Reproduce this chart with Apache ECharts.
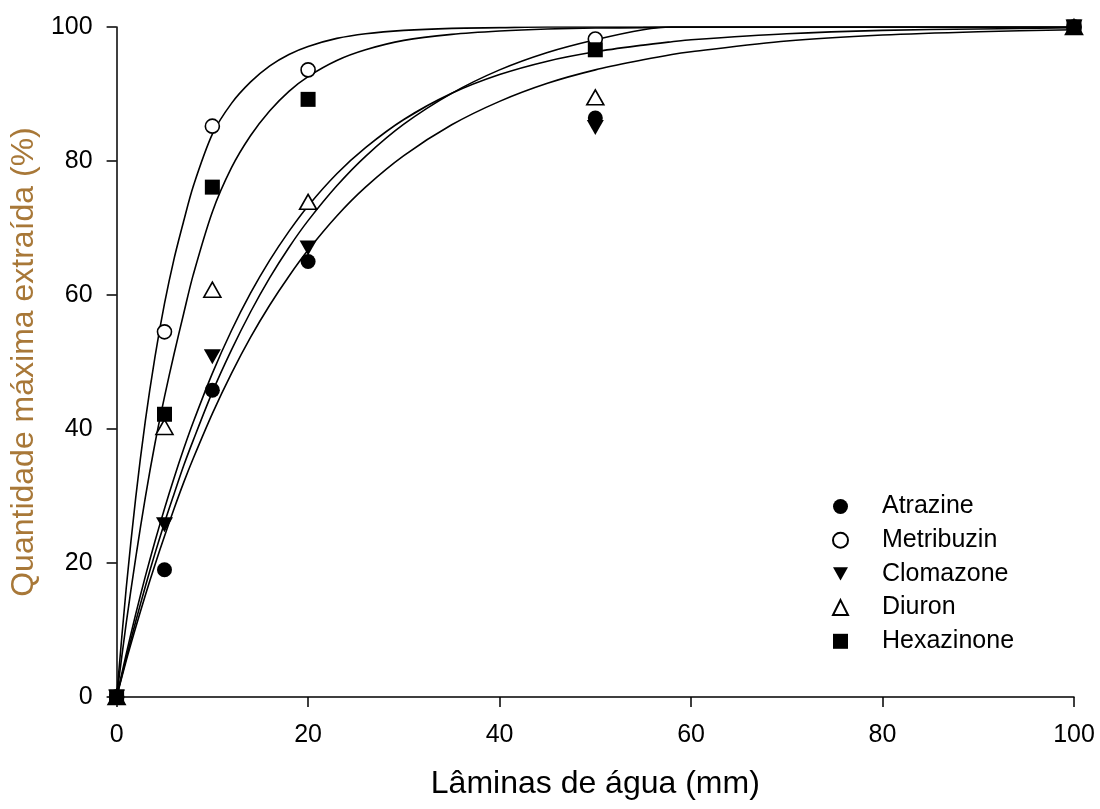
<!DOCTYPE html>
<html>
<head>
<meta charset="utf-8">
<script src="https://cdn.jsdelivr.net/npm/echarts@6/dist/echarts.min.js"></script>
<style>
html, body { margin: 0; padding: 0; background: #fff; }
#chart { width: 1100px; height: 809px; }
</style>
</head>
<body>
<div id="chart"></div>
<script>
// pontos observados
var laminas = [0, 5, 10, 20, 50, 100];
var atrazine = [0, 19.0, 45.8, 65.0, 86.4, 100];
var metribuzin = [0, 54.5, 85.2, 93.6, 98.2, 100];
var clomazone = [0, 25.7, 50.8, 67.0, 85.0, 100];
var diuron = [0, 40.3, 60.8, 73.9, 89.5, 100];
var hexazinone = [0, 42.2, 76.1, 89.2, 96.6, 100];

// curvas ajustadas
var curveX = [0, 1, 2, 3, 4, 5, 6, 7, 8, 10, 12, 14, 16, 18, 20, 23, 26, 30, 35, 40, 45, 50, 55, 58, 60, 70, 80, 90, 100];
var fitAtrazine = [0, 5.4, 10.4, 15.2, 19.7, 24.0, 28.1, 32.0, 35.6, 42.3, 48.3, 53.7, 58.5, 62.8, 66.7, 71.8, 76.1, 80.8, 85.4, 88.9, 91.6, 93.6, 95.1, 95.9, 96.3, 97.9, 98.8, 99.3, 99.6];
var fitMetribuzin = [0, 16.2, 29.8, 41.2, 50.7, 58.7, 65.4, 71.0, 76.2, 84.0, 88.6, 91.8, 94.2, 95.9, 97.1, 98.3, 99.0, 99.5, 99.8, 99.9, 100, 100, 100, 100, 100, 100, 100, 100, 100];
var fitClomazone = [0, 5.8, 11.3, 16.5, 21.4, 26.0, 30.3, 34.5, 38.3, 45.5, 51.8, 57.5, 62.6, 67.1, 71.1, 76.3, 80.7, 85.5, 90.1, 93.6, 96.2, 98.1, 99.6, 100, 100, 100, 100, 100, 100];
var fitDiuron = [0, 6.4, 12.4, 18.0, 23.2, 28.1, 32.7, 37.0, 41.0, 48.3, 54.7, 60.3, 65.2, 69.5, 73.3, 78.1, 82.0, 86.2, 90.1, 92.9, 94.9, 96.3, 97.3, 97.8, 98.1, 99.0, 99.5, 99.7, 99.9];
var fitHexazinone = [0, 11.0, 20.8, 29.8, 37.8, 44.8, 51.2, 57.2, 63.0, 72.4, 79.0, 83.8, 87.5, 90.4, 92.6, 95.0, 96.6, 98.0, 98.9, 99.4, 99.7, 99.85, 99.9, 100, 100, 100, 100, 100, 100];

var xTicks = [0, 20, 40, 60, 80, 100];
var yTicks = [0, 20, 40, 60, 80, 100];

var FONT = "'Liberation Sans', Arial, sans-serif";

function pairs(xs, ys){
	var out = [];
	for(var i = 0; i < xs.length; i++){
		out.push([xs[i], ys[i]]);
	}
	return out;
}

function fitLine(name, ys){
	return {
		name: name,
		type: 'line',
		data: pairs(curveX, ys),
		showSymbol: false,
		smooth: 0.3,
		silent: true,
		lineStyle: { color: '#000', width: 1.6 },
		z: 2
	};
}

function points(name, ys, symbol, size, filled, rotate){
	return {
		name: name,
		type: 'scatter',
		data: pairs(laminas, ys),
		symbol: symbol,
		symbolSize: size,
		symbolRotate: rotate || 0,
		itemStyle: filled
			? { color: '#000', opacity: 1 }
			: { color: '#fff', borderColor: '#000', borderWidth: 1.6, opacity: 1 },
		z: 4
	};
}

var chart = echarts.init(document.getElementById('chart'));

var option = {
	backgroundColor: '#fff',
	animation: false,
	grid: { left: 114, right: 26, top: 27, bottom: 112 },
	xAxis: {
		type: 'value',
		min: 0, max: 100, interval: 20,
		name: 'Lâminas de água (mm)',
		nameLocation: 'middle',
		nameGap: 71,
		nameTextStyle: { fontSize: 32, color: '#000', fontFamily: FONT },
		axisLine: { lineStyle: { color: '#000', width: 1.5 } },
		axisTick: { length: 10, lineStyle: { color: '#000', width: 1.5 } },
		axisLabel: { fontSize: 25, color: '#000', margin: 26, fontFamily: FONT,
			formatter: function(v){ return xTicks.indexOf(v) >= 0 ? String(v) : ''; } },
		splitLine: { show: false }
	},
	yAxis: {
		type: 'value',
		min: 0, max: 100, interval: 20,
		name: 'Quantidade máxima extraída (%)',
		nameLocation: 'middle',
		nameGap: 71,
		nameTextStyle: { fontSize: 32, color: '#a87838', fontFamily: FONT },
		axisLine: { show: true, lineStyle: { color: '#000', width: 1.5 } },
		axisTick: { show: true, length: 10, lineStyle: { color: '#000', width: 1.5 } },
		axisLabel: { fontSize: 25, color: '#000', margin: 24, fontFamily: FONT,
			formatter: function(v){ return yTicks.indexOf(v) >= 0 ? String(v) : ''; } },
		splitLine: { show: false }
	},
	legend: {
		data: [
			'Atrazine',
			'Metribuzin',
			{ name: 'Clomazone', icon: 'path://M0,0L17,0L8.5,15Z' },
			'Diuron',
			'Hexazinone'
		],
		orient: 'vertical',
		left: 827,
		top: 489,
		itemWidth: 15,
		itemHeight: 15,
		itemGap: 8.7,
		selectedMode: false,
		textStyle: { fontSize: 25, color: '#000', fontFamily: FONT, padding: [0, 0, 0, 29] }
	},
	series: [
		fitLine('fit Atrazine', fitAtrazine),
		fitLine('fit Metribuzin', fitMetribuzin),
		fitLine('fit Clomazone', fitClomazone),
		fitLine('fit Diuron', fitDiuron),
		fitLine('fit Hexazinone', fitHexazinone),
		points('Atrazine', atrazine, 'circle', 15, true),
		points('Metribuzin', metribuzin, 'circle', 14, false),
		points('Clomazone', clomazone, 'triangle', [17, 15], true, 180),
		points('Diuron', diuron, 'triangle', [17, 15], false),
		points('Hexazinone', hexazinone, 'rect', 15, true)
	]
};

chart.setOption(option);
</script>
</body>
</html>
